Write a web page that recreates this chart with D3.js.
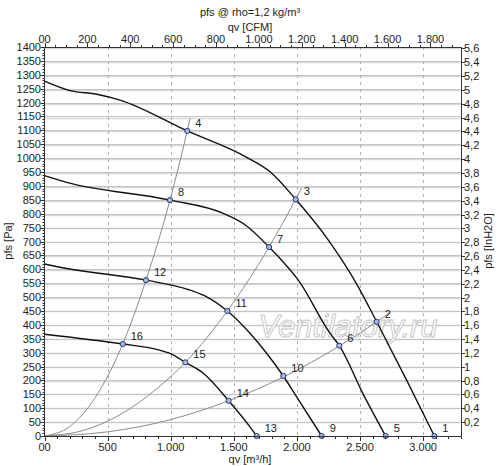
<!DOCTYPE html>
<html>
<head>
<meta charset="utf-8">
<script src="https://cdn.jsdelivr.net/npm/d3@7"></script>
<style>
  html, body { margin: 0; padding: 0; background: #fff; }
  svg { display: block; font-family: "Liberation Sans", Arial, sans-serif; }
</style>
</head>
<body>
<svg id="chart" width="500" height="466"></svg>
<script>
// ---------- data ----------
const qTicks = [0, 500, 1000, 1500, 2000, 2500, 3000];
const qTickLabels = ["00", "500", "1.000", "1.500", "2.000", "2.500", "3.000"];
const cfmTicks = [0, 200, 400, 600, 800, 1000, 1200, 1400, 1600, 1800];
const cfmTickLabels = ["00", "200", "400", "600", "800", "1.000", "1.200", "1.400", "1.600", "1.800"];
const paTicks = [0, 50, 100, 150, 200, 250, 300, 350, 400, 450, 500, 550, 600, 650, 700,
  750, 800, 850, 900, 950, 1000, 1050, 1100, 1150, 1200, 1250, 1300, 1350, 1400];
const inTicks = [0.2, 0.4, 0.6, 0.8, 1, 1.2, 1.4, 1.6, 1.8, 2, 2.2, 2.4, 2.6, 2.8, 3, 3.2,
  3.4, 3.6, 3.8, 4, 4.2, 4.4, 4.6, 4.8, 5, 5.2, 5.4, 5.6];
const inTickLabels = ["0,2", "0,4", "0,6", "0,8", "1", "1,2", "1,4", "1,6", "1,8", "2", "2,2", "2,4",
  "2,6", "2,8", "3", "3,2", "3,4", "3,6", "3,8", "4", "4,2", "4,4", "4,6", "4,8", "5", "5,2", "5,4", "5,6"];

// fan curves [qv m3/h, pfs Pa]
const fanA = [[0, 1277], [202, 1243], [414, 1230], [598, 1209], [1131, 1098], [1602, 1003], [1787, 951],
  [1990, 852], [2249, 705], [2486, 537], [2632, 411], [2870, 200], [3089, 0]];
const fanB = [[0, 937], [176, 913], [994, 849], [1417, 801], [1602, 756], [1779, 680], [1866, 639],
  [2011, 561], [2262, 370], [2336, 325], [2526, 150], [2703, 0]];
const fanC = [[0, 619], [176, 603], [804, 561], [1153, 525], [1285, 501], [1449, 450], [1628, 370],
  [1760, 298], [1892, 216], [1998, 141], [2196, 0]];
const fanD = [[0, 366], [620, 331], [889, 312], [994, 297], [1116, 265], [1258, 226], [1459, 127],
  [1628, 33], [1681, 0]];

// system curves [qv m3/h, pfs Pa]
const sysSteep = [[0, 0], [200, 34], [400, 137], [620, 331], [804, 561], [994, 849], [1131, 1098], [1154, 1143]];
const sysMid = [[0, 0], [300, 19], [600, 77], [900, 174], [1116, 265], [1449, 450], [1779, 680], [1990, 852], [2038, 893]];
const sysFlat = [[0, 0], [500, 15], [1000, 59], [1459, 127], [1892, 212], [2336, 324], [2632, 411], [2738, 445]];

// operating points
const pointLabels = ["1", "2", "3", "4", "5", "6", "7", "8", "9", "10", "11", "12", "13", "14", "15", "16"];
const pointQ = [3089, 2632, 1990, 1131, 2703, 2336, 1779, 994, 2196, 1892, 1449, 804, 1681, 1459, 1116, 620];
const pointP = [0, 411, 852, 1098, 0, 325, 680, 849, 0, 216, 450, 561, 0, 127, 265, 331];

const PA_PER_INH2O = 249.089;
const M3H_PER_CFM = 1.699;

// ---------- drawing ----------
const svg = d3.select("#chart");
const x = d3.scaleLinear().domain([0, 3300]).range([44.5, 461]);
const y = d3.scaleLinear().domain([0, 1400]).range([436, 47]);
const xCfm = d3.scaleLinear().domain([0, 3300 / M3H_PER_CFM]).range([44.5, 461]);
const yIn = d3.scaleLinear().domain([0, 1400 / PA_PER_INH2O]).range([436, 47]);

const grid = svg.append("g");
// inH2O gridlines
grid.selectAll("line.gin").data(inTicks).join("line")
  .attr("x1", 44.5).attr("x2", 461)
  .attr("y1", d => Math.round(yIn(d)) + 0.5).attr("y2", d => Math.round(yIn(d)) + 0.5)
  .attr("stroke", "#d8d8d8").attr("stroke-width", 1.4);
// Pa gridlines
grid.selectAll("line.gpa").data(paTicks.slice(1)).join("line")
  .attr("x1", 44.5).attr("x2", 461)
  .attr("y1", d => Math.round(y(d)) + 0.5).attr("y2", d => Math.round(y(d)) + 0.5)
  .attr("stroke", "#c4c4c4").attr("stroke-width", 1);
// vertical dashed gridlines
grid.selectAll("line.gq").data(qTicks.slice(1)).join("line")
  .attr("x1", d => Math.round(x(d)) + 0.5).attr("x2", d => Math.round(x(d)) + 0.5)
  .attr("y1", 47).attr("y2", 436)
  .attr("stroke", "#b0b0b0").attr("stroke-dasharray", "3,4");

// watermark
svg.append("text")
  .attr("x", 348).attr("y", 337)
  .attr("text-anchor", "middle")
  .attr("font-size", 31).attr("font-style", "italic")
  .attr("fill", "#ffffff").attr("stroke", "#c8c8c8").attr("stroke-width", 1)
  .text("Ventilatory.ru");

// system curves
const line = d3.line().x(d => x(d[0])).y(d => y(d[1])).curve(d3.curveMonotoneX);
[sysSteep, sysMid, sysFlat].forEach(s => {
  svg.append("path").attr("d", line(s)).attr("fill", "none")
    .attr("stroke", "#8a8a8a").attr("stroke-width", 1);
});
// fan curves
[fanA, fanB, fanC, fanD].forEach(s => {
  svg.append("path").attr("d", line(s)).attr("fill", "none")
    .attr("stroke", "#111").attr("stroke-width", 1.4);
});

// points + labels
const pts = pointLabels.map((l, i) => ({ l, q: pointQ[i], p: pointP[i] }));
svg.selectAll("circle.pt").data(pts).join("circle")
  .attr("cx", d => x(d.q)).attr("cy", d => y(d.p)).attr("r", 2.6)
  .attr("fill", "#aab6dc").attr("stroke", "#243a78").attr("stroke-width", 1);
svg.selectAll("text.pl").data(pts).join("text")
  .attr("x", d => x(d.q) + 8).attr("y", d => y(d.p) - 4)
  .attr("font-size", 11).attr("fill", "#222").text(d => d.l);

// axes
const fs = 11;
const axes = svg.append("g").attr("fill", "#222").attr("font-size", fs);
// frame lines
axes.append("line").attr("x1", 44.5).attr("x2", 44.5).attr("y1", 47).attr("y2", 436.5).attr("stroke", "#333");
axes.append("line").attr("x1", 461.5).attr("x2", 461.5).attr("y1", 47).attr("y2", 436.5).attr("stroke", "#333");
axes.append("line").attr("x1", 44).attr("x2", 462).attr("y1", 47.5).attr("y2", 47.5).attr("stroke", "#333");
axes.append("line").attr("x1", 44).attr("x2", 462).attr("y1", 436.5).attr("y2", 436.5).attr("stroke", "#333");

// left ticks: minor every 10 Pa
const paMinor = d3.range(0, 1401, 10);
axes.selectAll("line.lm").data(paMinor).join("line")
  .attr("x1", 44.5).attr("x2", d => d % 50 === 0 ? 40.5 : 42.5)
  .attr("y1", d => Math.round(y(d)) + 0.5).attr("y2", d => Math.round(y(d)) + 0.5)
  .attr("stroke", "#333");
axes.selectAll("text.ll").data(paTicks).join("text")
  .attr("x", 41).attr("y", d => y(d) + 4).attr("text-anchor", "end")
  .text(d => String(d));

// right ticks
axes.selectAll("line.rm").data(inTicks).join("line")
  .attr("x1", 461.5).attr("x2", 465)
  .attr("y1", d => Math.round(yIn(d)) + 0.5).attr("y2", d => Math.round(yIn(d)) + 0.5)
  .attr("stroke", "#333");
axes.selectAll("text.rl").data(inTicks).join("text")
  .attr("x", 464).attr("y", d => yIn(d) + 4).attr("text-anchor", "start")
  .text((d, i) => inTickLabels[i]);

// bottom ticks
const qMinor = d3.range(0, 3301, 100);
axes.selectAll("line.bm").data(qMinor).join("line")
  .attr("x1", d => Math.round(x(d)) + 0.5).attr("x2", d => Math.round(x(d)) + 0.5)
  .attr("y1", 436.5).attr("y2", d => d % 500 === 0 ? 441 : 439)
  .attr("stroke", "#333");
axes.selectAll("text.bl").data(qTicks).join("text")
  .attr("x", d => x(d)).attr("y", 451).attr("text-anchor", "middle")
  .text((d, i) => qTickLabels[i]);

// top ticks
const cfmMinor = d3.range(0, 1942, 50);
axes.selectAll("line.tm").data(cfmMinor).join("line")
  .attr("x1", d => Math.round(xCfm(d)) + 0.5).attr("x2", d => Math.round(xCfm(d)) + 0.5)
  .attr("y1", 47.5).attr("y2", d => d % 200 === 0 ? 43 : 45)
  .attr("stroke", "#333");
axes.selectAll("text.tl").data(cfmTicks).join("text")
  .attr("x", d => xCfm(d)).attr("y", 43).attr("text-anchor", "middle")
  .text((d, i) => cfmTickLabels[i]);

// titles
svg.append("text").attr("x", 250).attr("y", 16).attr("text-anchor", "middle")
  .attr("font-size", fs).attr("fill", "#222").text("pfs @ rho=1,2 kg/m³");
svg.append("text").attr("x", 250).attr("y", 31).attr("text-anchor", "middle")
  .attr("font-size", fs).attr("fill", "#222").text("qv [CFM]");
svg.append("text").attr("x", 250).attr("y", 463).attr("text-anchor", "middle")
  .attr("font-size", fs).attr("fill", "#222").text("qv [m³/h]");
svg.append("text").attr("transform", "translate(12,241) rotate(-90)").attr("text-anchor", "middle")
  .attr("font-size", fs).attr("fill", "#222").text("pfs [Pa]");
svg.append("text").attr("transform", "translate(492,241) rotate(-90)").attr("text-anchor", "middle")
  .attr("font-size", fs).attr("fill", "#222").text("pfs [InH2O]");
</script>
</body>
</html>
